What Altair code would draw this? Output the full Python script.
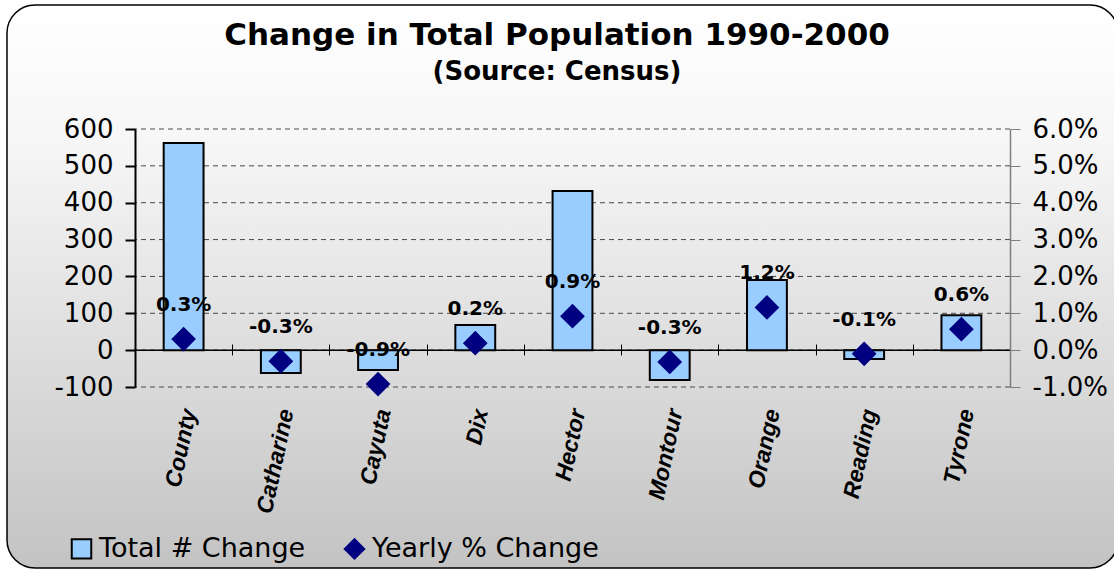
import altair as alt
import pandas as pd

places = ["County", "Catharine", "Cayuta", "Dix", "Hector", "Montour", "Orange", "Reading", "Tyrone"]
total_change = [562, -62, -54, 68, 432, -81, 190, -24, 95]
yearly_pct = [0.0030, -0.0030, -0.0092, 0.0019, 0.0092, -0.0032, 0.0116, -0.0010, 0.0057]
left_ticks = [-100, 0, 100, 200, 300, 400, 500, 600]
right_ticks = [-0.01, 0.0, 0.01, 0.02, 0.03, 0.04, 0.05, 0.06]
series_names = ["Total # Change", "Yearly % Change"]
title_text = "Change in Total Population 1990-2000"
subtitle_text = "(Source: Census)"

df = pd.DataFrame({"place": places, "total": total_change, "pct": yearly_pct,
                   "series": ["Yearly % Change"] * len(places)})
grid_df = pd.DataFrame({"v": left_ticks})
zero_df = pd.DataFrame({"v": [0]})
one = pd.DataFrame({"k": [0]})

FONT = "DejaVu Sans"
MINUS_FIX = "replace(datum.label, '\u2212', '-')"

left_scale = alt.Scale(domain=[-100, 600], nice=False)
right_scale = alt.Scale(domain=[-0.01, 0.06], nice=False)
x_scale = alt.Scale(paddingInner=0, paddingOuter=0)

gradient = alt.LinearGradient(
    gradient="linear", x1=0, x2=0, y1=0, y2=1,
    stops=[alt.GradientStop(offset=0, color="#FFFFFF"),
           alt.GradientStop(offset=0.25, color="#F6F6F6"),
           alt.GradientStop(offset=1, color="#C3C3C3")])

bg = alt.Chart(one).mark_rect(
    fill=gradient, stroke="black", strokeWidth=1.5, cornerRadius=28
).encode(x=alt.value(-128), x2=alt.value(983), y=alt.value(-124), y2=alt.value(439))

title = alt.Chart(one).mark_text(text=title_text, font=FONT, fontWeight="bold", fontSize=31,
                                 color="black", align="center", baseline="alphabetic").encode(
    x=alt.value(422), y=alt.value(-84))
subtitle = alt.Chart(one).mark_text(text=subtitle_text, font=FONT, fontWeight="bold", fontSize=26,
                                    color="black", align="center", baseline="alphabetic").encode(
    x=alt.value(422), y=alt.value(-49))

grid = alt.Chart(grid_df).mark_rule(color="#4A4A4A", strokeDash=[5, 4], strokeWidth=1).encode(
    y=alt.Y("v:Q", scale=left_scale, axis=None))

zero = alt.Chart(zero_df).mark_rule(color="black", strokeWidth=1.5).encode(
    y=alt.Y("v:Q", scale=left_scale, axis=None))

bars = alt.Chart(df).mark_bar(width={"band": 0.41}, fill="#99CCFF", stroke="black", strokeWidth=2).encode(
    x=alt.X("place:N", sort=places, scale=x_scale,
            axis=alt.Axis(orient="bottom", title=None, domain=False, ticks=False, labelAngle=282,
                          labelFont="Liberation Sans", labelFontWeight="bold", labelFontStyle="italic",
                          labelFontSize=23, labelPadding=22, labelOffset=6, labelColor="black", zindex=1)),
    y=alt.Y("total:Q", scale=left_scale,
            axis=alt.Axis(orient="left", values=left_ticks, title=None, grid=False, domainColor="black",
                          domainWidth=2, tickColor="black", tickWidth=2, tickSize=10, labelFont=FONT,
                          labelFontSize=26, labelColor="black", labelPadding=12, labelExpr=MINUS_FIX,
                          zindex=1)),
)

ticklayer = alt.Chart(df).mark_point(opacity=0).encode(
    x=alt.X("place:N", sort=places, scale=x_scale,
            axis=alt.Axis(orient="bottom", offset=-43, labels=False, domain=False, ticks=True,
                          tickBand="extent", tickSize=11, tickColor="black", tickWidth=1,
                          title=None, zindex=1)))

legend = alt.Legend(orient="none", legendX=-67, legendY=406, direction="horizontal", title=None,
                    labelFont=FONT, labelFontSize=27, labelColor="black", labelLimit=400,
                    symbolSize=380, symbolStrokeWidth=2, columnPadding=34, labelOffset=4)

points = alt.Chart(df).mark_point(filled=True, size=480, opacity=1).encode(
    x=alt.X("place:N", sort=places, scale=x_scale, axis=None),
    y=alt.Y("pct:Q", scale=right_scale,
            axis=alt.Axis(orient="right", values=right_ticks, format=".1%", title=None, grid=False,
                          domainColor="#7F7F7F", domainWidth=1.5, tickColor="#7F7F7F", tickSize=10,
                          labelFont=FONT, labelFontSize=26, labelColor="black", labelPadding=12,
                          labelExpr=MINUS_FIX, zindex=1)),
    fill=alt.Fill("series:N", scale=alt.Scale(domain=series_names, range=["#99CCFF", "#000080"]), legend=legend),
    shape=alt.Shape("series:N", scale=alt.Scale(domain=series_names, range=["square", "diamond"]), legend=legend),
    stroke=alt.Stroke("series:N", scale=alt.Scale(domain=series_names, range=["black", "#000080"]), legend=legend),
)

labels = alt.Chart(df).transform_calculate(
    lbl="replace(format(datum.pct, '.1%'), '\u2212', '-')"
).mark_text(font=FONT, fontWeight="bold", fontSize=20, dy=-34, color="black").encode(
    x=alt.X("place:N", sort=places, scale=x_scale, axis=None),
    y=alt.Y("pct:Q", scale=right_scale, axis=None),
    text=alt.Text("lbl:N"),
)

chart = alt.layer(bg, title, subtitle, grid, zero, bars, ticklayer, points, labels).resolve_scale(
    y="independent").resolve_axis(x="independent").properties(
    width=875, height=258,
    padding={"left": 135, "top": 129, "right": 104, "bottom": 182},
    autosize=alt.AutoSizeParams(type="none"),
    background="white",
).configure_view(stroke=None)

chart.save("out.html", embed_options={"renderer": "svg", "actions": False})
